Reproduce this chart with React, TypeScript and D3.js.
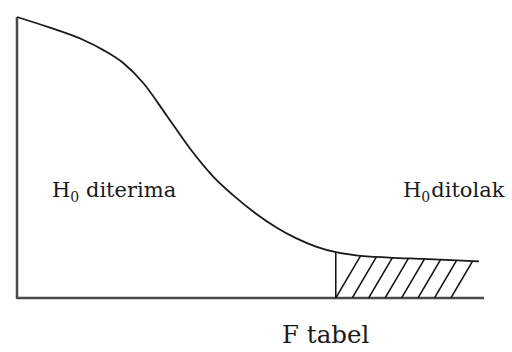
import React from "react";
import * as d3 from "d3";

// curve: F value -> density (relative)
const fValues = [0, 0.357, 0.714, 0.931, 1.147, 1.364, 1.623, 1.872, 2.121, 2.338, 2.587, 2.803, 3.019, 3.236, 3.452, 3.669, 4.026, 4.394, 5.0];
const density = [1.0, 0.962, 0.919, 0.883, 0.837, 0.766, 0.648, 0.532, 0.433, 0.366, 0.3, 0.252, 0.213, 0.183, 0.163, 0.152, 0.144, 0.139, 0.13];

const fTabel = 3.45;
const hatchStep = 0.178;
const hatchCount = 8;

const labelLeft = "diterima";
const labelRight = "ditolak";
const labelAxis = "F tabel";

const W = 512;
const H = 352;
const serif = "'DejaVu Serif', Tinos, 'Noto Serif', Georgia, serif";

export default function App() {
  const x = d3.scaleLinear().domain([0, 5]).range([17, 479]);
  const y = d3.scaleLinear().domain([0, 1]).range([298, 17]);

  const pts: [number, number][] = fValues.map((f, i) => [f, density[i]]);
  const curve = d3.curveMonotoneX;

  const line = d3
    .line<[number, number]>()
    .x((d) => x(d[0]))
    .y((d) => y(d[1]))
    .curve(curve);

  // tail region right of F tabel, used as clip for hatching
  const tail = pts.filter((d) => d[0] >= fTabel);
  const area = d3
    .area<[number, number]>()
    .x((d) => x(d[0]))
    .y0(y(0))
    .y1((d) => y(d[1]))
    .curve(curve);

  const yAtF = y(0.163);
  const hatch = d3.range(hatchCount).map((i) => {
    const bx = x(fTabel + i * hatchStep);
    const rise = 70;
    return { x1: bx, y1: y(0), x2: bx + rise / 1.7, y2: y(0) - rise };
  });

  return (
    <div style={{ position: "absolute", left: 0, top: 0 }}>
      <svg width={W} height={H} style={{ display: "block", background: "#fff" }}>
        <defs>
          <clipPath id="tail">
            <path d={area(tail) || ""} />
          </clipPath>
        </defs>

        {/* axes */}
        <line x1={x(0)} y1={y(0)} x2={484} y2={y(0)} stroke="#4a4a4a" strokeWidth={2.5} />
        <line x1={x(0)} y1={y(0) + 1} x2={x(0)} y2={y(1)} stroke="#4a4a4a" strokeWidth={2.5} />

        {/* hatched rejection region */}
        <g clipPath="url(#tail)">
          {hatch.map((h, i) => (
            <line key={i} x1={h.x1} y1={h.y1} x2={h.x2} y2={h.y2} stroke="#111" strokeWidth={1.5} />
          ))}
        </g>
        <line x1={x(fTabel)} y1={y(0)} x2={x(fTabel)} y2={yAtF} stroke="#111" strokeWidth={1.5} />

        {/* density curve */}
        <path d={line(pts) || ""} fill="none" stroke="#1a1a1a" strokeWidth={1.8} />

        {/* labels */}
        <text x={52} y={197} fontSize={21} fontFamily={serif} fill="#1a1a1a">
          H<tspan fontSize={14} dy={5}>0</tspan>
          <tspan dy={-5}> {labelLeft}</tspan>
        </text>
        <text x={403} y={197} fontSize={21} fontFamily={serif} fill="#1a1a1a">
          H<tspan fontSize={14} dy={5}>0</tspan>
          <tspan dy={-5} dx={1}>{labelRight}</tspan>
        </text>
        <text x={282} y={343} fontSize={24.5} fontFamily={serif} fill="#1a1a1a">
          {labelAxis}
        </text>
      </svg>
    </div>
  );
}
